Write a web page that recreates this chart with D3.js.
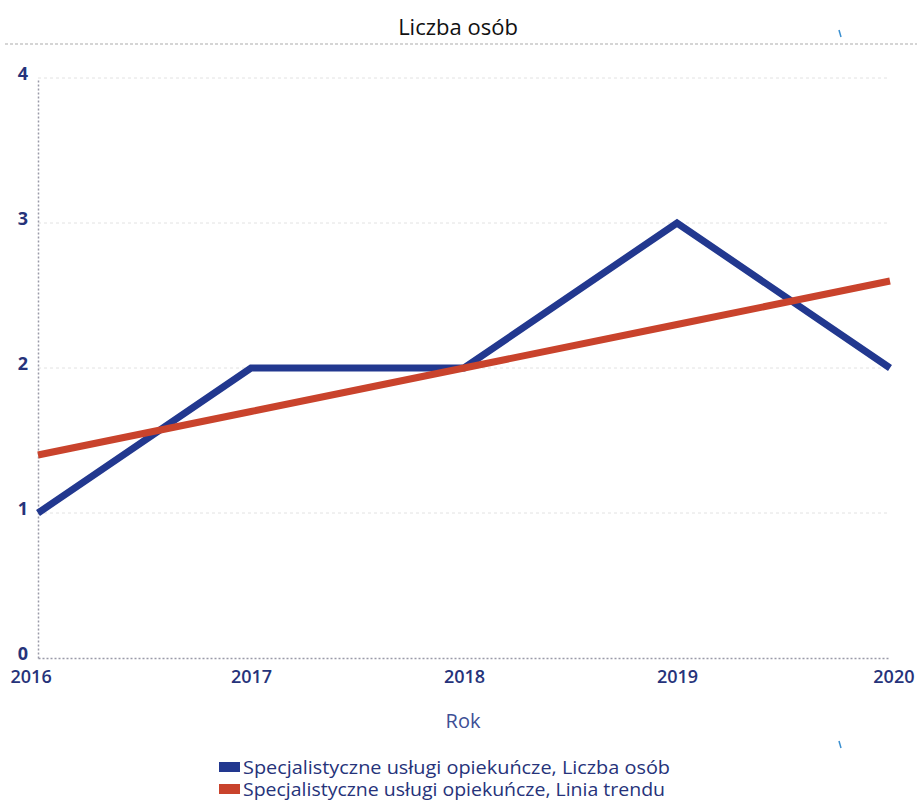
<!DOCTYPE html>
<html><head><meta charset="utf-8">
<script src="https://cdn.jsdelivr.net/npm/d3@7"></script>
<style>body{margin:0;background:#fff}svg{display:block}</style>
</head><body>
<script>
const years = [2016, 2017, 2018, 2019, 2020];
const liczbaOsob = [1, 2, 2, 3, 2];
const liniaTrendu = [1.4, 1.7, 2.0, 2.3, 2.6];
const yTicks = [0, 1, 2, 3, 4];
const seriesNames = ["Specjalistyczne usługi opiekuńcze, Liczba osób", "Specjalistyczne usługi opiekuńcze, Linia trendu"];
const colors = ["#22388f", "#c9432c"];

const W = 917, H = 802;
const svg = d3.select("body").append("svg").attr("width", W).attr("height", H);
const x = d3.scaleLinear().domain([2016, 2020]).range([38, 890]);
const y = d3.scaleLinear().domain([0, 4]).range([658, 78]);
const font = "'Open Sans', 'Noto Sans', sans-serif";
const navy = "#26337a";

svg.append("text").attr("x", 458).attr("y", 35).attr("text-anchor", "middle")
  .attr("font-family", font).attr("font-size", 22).attr("fill", "#111").text("Liczba osób");
svg.append("line").attr("x1", 5).attr("x2", 917).attr("y1", 44).attr("y2", 44)
  .attr("stroke", "#c8c8c8").attr("stroke-width", 1.5).attr("stroke-dasharray", "3,2");

// grid
svg.append("g").selectAll("line").data(yTicks.filter(d => d > 0)).join("line")
  .attr("x1", 38).attr("x2", 890).attr("y1", d => y(d)).attr("y2", d => y(d))
  .attr("stroke", "#e2e2e2").attr("stroke-width", 1).attr("stroke-dasharray", "3,3");

// axes
const yAxis = svg.append("g").attr("transform", "translate(38,0)")
  .call(d3.axisLeft(y).tickValues(yTicks).tickFormat(d3.format("d")).tickSize(0).tickPadding(10));
yAxis.select(".domain").attr("stroke", "#9a9aa8").attr("stroke-width", 1.5).attr("stroke-dasharray", "2,2");
yAxis.selectAll("text").attr("font-family", font).attr("font-size", 18).attr("font-weight", "bold").attr("fill", navy).attr("dy", "0.1em");

const xAxis = svg.append("g").attr("transform", "translate(0,658)")
  .call(d3.axisBottom(x).tickValues(years).tickFormat(d3.format("d")).tickSize(0).tickPadding(12));
xAxis.select(".domain").attr("stroke", "#9a9aa8").attr("stroke-width", 1.5).attr("stroke-dasharray", "2,2");
xAxis.selectAll("text").attr("font-family", font).attr("font-size", 18).attr("font-weight", "600").attr("fill", navy)
  .attr("text-anchor", (d, i) => i === 0 ? "start" : (i === years.length - 1 ? "end" : "middle"))
  .attr("dx", (d, i) => i === 0 ? -28 : (i === years.length - 1 ? 24 : 0));

svg.append("text").attr("x", 463).attr("y", 728).attr("text-anchor", "middle")
  .attr("font-family", font).attr("font-size", 20).attr("fill", "#3d4f95").text("Rok");

// lines
const line = d3.line().x((d, i) => x(years[i])).y(d => y(d));
[liczbaOsob, liniaTrendu].forEach((s, k) => {
  svg.append("path").datum(s).attr("d", line).attr("fill", "none")
    .attr("stroke", colors[k]).attr("stroke-width", 7).attr("stroke-linejoin", "miter");
});

// small stray marks present in reference
svg.append("line").attr("x1", 839).attr("y1", 30).attr("x2", 841).attr("y2", 37).attr("stroke", "#3a8fd0").attr("stroke-width", 1.5);
svg.append("line").attr("x1", 839).attr("y1", 741).attr("x2", 841).attr("y2", 748).attr("stroke", "#3a8fd0").attr("stroke-width", 1.5);

// legend
const lg = svg.append("g");
seriesNames.forEach((n, i) => {
  lg.append("rect").attr("x", 219).attr("y", 762 + i * 22).attr("width", 21).attr("height", 10).attr("fill", colors[i]);
  lg.append("text").attr("x", 243).attr("y", 774 + i * 22).attr("font-family", font).attr("font-size", 17.5)
    .attr("textLength", i === 0 ? 427 : 422).attr("lengthAdjust", "spacingAndGlyphs")
    .attr("fill", navy).text(n);
});
</script>
</body></html>
